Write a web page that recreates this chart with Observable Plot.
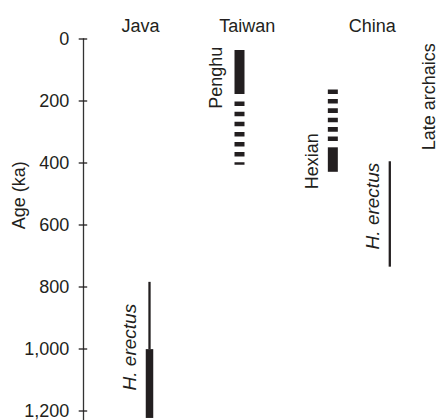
<!DOCTYPE html>
<html><head><meta charset="utf-8">
<script src="https://cdn.jsdelivr.net/npm/d3@7"></script>
<script src="https://cdn.jsdelivr.net/npm/@observablehq/plot@0.6"></script>
<style>body{margin:0;background:#fff;} #chart svg{display:block;}</style>
</head><body><div id="chart"></div>
<script>
// ---- Data (ages in ka) ----
const regions = ["Java", "Taiwan", "China"];
const taxa = ["H. erectus", "Penghu", "Hexian", "H. erectus"];
const taxonRegion = ["Java", "Taiwan", "China", "China"];
const italicName = [true, false, false, true];
// firm age ranges (thick bars)
const barFrom = [1002, 37, 351, null];
const barTo = [1224, 179, 430, null];
// possible age ranges (thin lines)
const lineFrom = [785, null, null, 396];
const lineTo = [1002, null, null, 736];
// uncertain age ranges (dashed bars)
const dashFrom = [null, 203.5, 331, null];
const dashTo = [null, 407, 163, null];
const yTicks = [0, 200, 400, 600, 800, 1000, 1200];
const yLabel = "Age (ka)";
const sideNote = ["Late archaics"];

// ---- Layout (x in lane units, label centres in ka) ----
const regionLane = [0.9, 2.086, 3.474];
const taxonLane = [1.0, 2.0, 3.037, 3.67];
const taxonLabelLane = [0.777, 1.738, 2.813, 3.487];
const taxonLabelAge = [994, 125, 394.5, 539];
const noteLane = [4.11];
const noteAge = [186.5];

const ink = "#231f20";
const font = 18;

const rows = taxa.map((t, i) => ({
  taxon: t, region: taxonRegion[i], italic: italicName[i],
  lane: taxonLane[i], labelLane: taxonLabelLane[i], labelAge: taxonLabelAge[i],
  barFrom: barFrom[i], barTo: barTo[i],
  lineFrom: lineFrom[i], lineTo: lineTo[i],
  dashFrom: dashFrom[i], dashTo: dashTo[i]
}));
const headers = regions.map((r, i) => ({region: r, lane: regionLane[i]}));
const notes = sideNote.map((n, i) => ({text: n, lane: noteLane[i], age: noteAge[i]}));

const chart = Plot.plot({
  width: 438, height: 420,
  marginLeft: 83, marginRight: 0, marginTop: 38.5, marginBottom: 1,
  style: {fontFamily: "'Liberation Sans', Arial, sans-serif", fontSize: "18px", color: ink, background: "white", overflow: "visible"},
  x: {type: "linear", domain: [0, 1], range: [59, 149], axis: null},
  y: {type: "linear", domain: [0, 1227.4], reverse: true},
  marks: [
    Plot.frame({anchor: "left", stroke: "#333", strokeWidth: 1.3}),
    Plot.axisY({ticks: yTicks, tickSize: 8.5, tickPadding: 10, dx: 4.2, strokeWidth: 1.3,
      tickFormat: d3.format(","), label: null, fontSize: font, fill: ink}),
    Plot.text([yLabel], {frameAnchor: "left", dx: -64, rotate: -90, fontSize: font, fill: ink}),
    // thin lines
    Plot.ruleX(rows.filter(d => d.lineFrom != null), {x: "lane", y1: "lineFrom", y2: "lineTo", stroke: ink, strokeWidth: 2.3}),
    // thick bars
    Plot.ruleX(rows.filter(d => d.barFrom != null && d.region === "Java"), {x: "lane", y1: "barFrom", y2: "barTo", stroke: ink, strokeWidth: 7.5}),
    Plot.ruleX(rows.filter(d => d.barFrom != null && d.region !== "Java"), {x: "lane", y1: "barFrom", y2: "barTo", stroke: ink, strokeWidth: 10}),
    // dashed bars
    Plot.ruleX(rows.filter(d => d.taxon === "Penghu"), {x: "lane", y1: "dashFrom", y2: "dashTo", stroke: ink, strokeWidth: 10, strokeDasharray: "4.5,5.6"}),
    Plot.ruleX(rows.filter(d => d.taxon === "Hexian"), {x: "lane", y1: "dashFrom", y2: "dashTo", stroke: ink, strokeWidth: 10, strokeDasharray: "4.6,4.8"}),
    // headers
    Plot.text(headers, {x: "lane", frameAnchor: "top", dy: -20, text: "region", fontSize: font, fill: ink}),
    // taxon labels
    Plot.text(rows.filter(d => !d.italic), {x: "labelLane", y: "labelAge", text: "taxon", rotate: -90, fontSize: font, fill: ink}),
    Plot.text(rows.filter(d => d.italic), {x: "labelLane", y: "labelAge", text: "taxon", rotate: -90, fontSize: 19, fontStyle: "italic", fill: ink}),
    Plot.text(notes, {x: "lane", y: "age", text: "text", rotate: -90, fontSize: font, fill: ink})
  ]
});
document.getElementById("chart").appendChild(chart);
</script>
</body></html>
